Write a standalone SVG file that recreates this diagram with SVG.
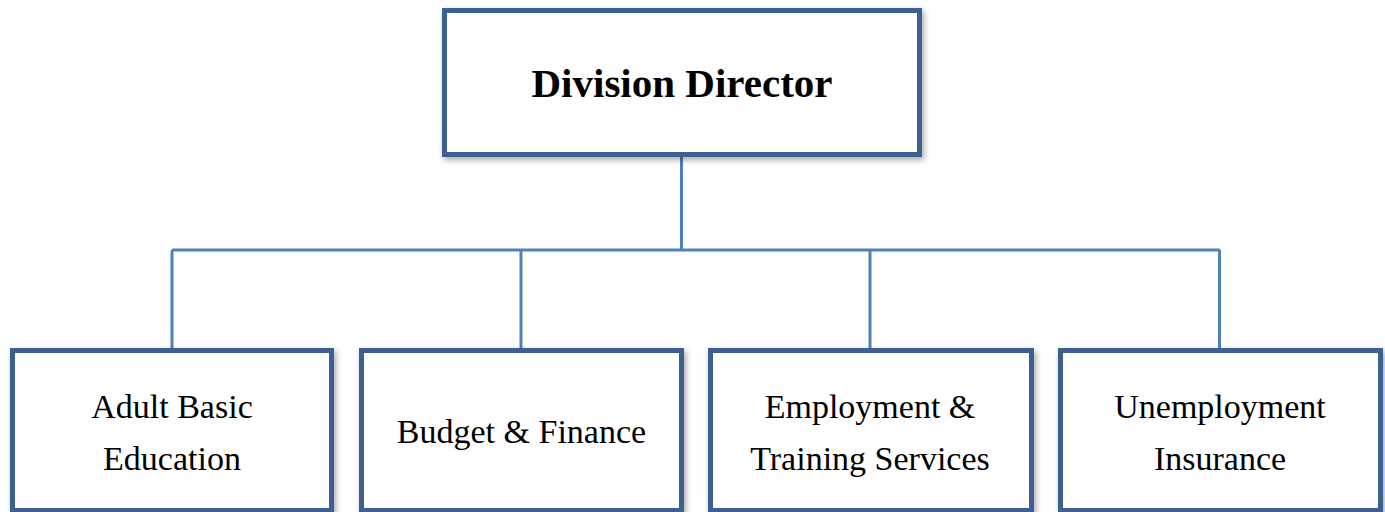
<svg xmlns="http://www.w3.org/2000/svg" width="1385" height="512" viewBox="0 0 1385 512">
<defs>
<filter id="sh" x="-10%" y="-10%" width="120%" height="130%">
<feDropShadow dx="2" dy="3" stdDeviation="3" flood-color="#000" flood-opacity="0.35"/>
</filter>
<style>
.box{fill:#fff;stroke:#3d6190;stroke-width:5;filter:url(#sh)}
.ln{fill:none;stroke:#4f81bd;stroke-width:3}
.t{font-family:"Liberation Serif",serif;font-size:34px;fill:#000;text-anchor:middle}
.tb{font-family:"Liberation Serif",serif;font-size:41px;font-weight:bold;fill:#000;text-anchor:middle}
</style>
</defs>
<rect width="1385" height="512" fill="#fff"/>
<g id="connectors">
<path class="ln" d="M681.5 157 V250 M172 250 H1220 M172 250 V349 M521 250 V349 M870 250 V349 M1219.5 250 V349"/>
</g>
<g id="director">
<rect class="box" x="444.5" y="10.5" width="475" height="144"/>
<text class="tb" x="682" y="97">Division Director</text>
</g>
<g id="abe">
<rect class="box" x="12.5" y="350.5" width="319" height="160"/>
<text class="t" x="172" y="418">Adult Basic</text>
<text class="t" x="172" y="470">Education</text>
</g>
<g id="budget">
<rect class="box" x="361.5" y="350.5" width="320" height="160"/>
<text class="t" x="521.5" y="443">Budget &amp; Finance</text>
</g>
<g id="employment">
<rect class="box" x="710.5" y="350.5" width="321" height="160"/>
<text class="t" x="870" y="418">Employment &amp;</text>
<text class="t" x="870" y="470">Training Services</text>
</g>
<g id="ui">
<rect class="box" x="1060.5" y="350.5" width="320" height="160"/>
<text class="t" x="1220" y="418">Unemployment</text>
<text class="t" x="1220" y="470">Insurance</text>
</g>
</svg>
